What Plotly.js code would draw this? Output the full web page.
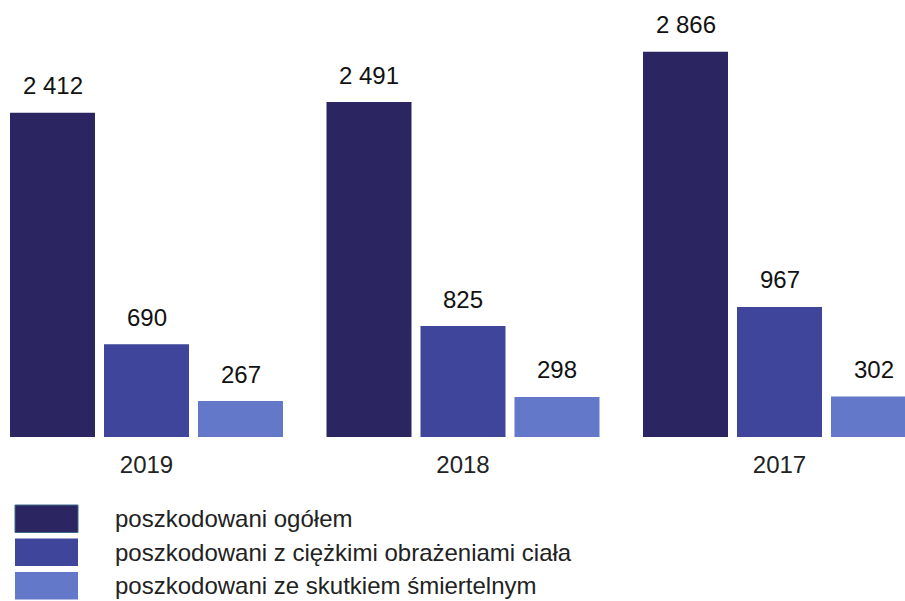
<!DOCTYPE html>
<html>
<head>
<meta charset="utf-8">
<script src="https://cdn.plot.ly/plotly-3.0.1.min.js"></script>
<style>html,body{margin:0;padding:0;background:#fff;}#chart{width:905px;height:601px;}</style>
</head>
<body>
<div id="chart"></div>
<script>
// Data
const years = ["2019", "2018", "2017"];
const seriesNames = [
  "poszkodowani ogółem",
  "poszkodowani z ciężkimi obrażeniami ciała",
  "poszkodowani ze skutkiem śmiertelnym"
];
const totalInjured = [2412, 2491, 2866];
const seriouslyInjured = [690, 825, 967];
const fatalities = [267, 298, 302];
const seriesValues = [totalInjured, seriouslyInjured, fatalities];
const colors = ["#2b2661", "#3e459b", "#6478c9"];

function fmt(v) {
  return String(v).replace(/\B(?=(\d{3})+(?!\d))/g, " ");
}

const FONT = "Liberation Sans, Arial, Helvetica, sans-serif";
const W = 905, H = 601, B = 164;
const plotH = H - B;
const bargap = 0.109, bargroupgap = 0.0957;

const traces = seriesValues.map((vals, i) => ({
  type: "bar",
  name: seriesNames[i],
  x: years,
  y: vals,
  marker: { color: colors[i] },
  hoverinfo: "skip",
  showlegend: false
}));

// Value labels above bars
const annotations = [];
const slot = (1 - bargap) / seriesValues.length;
seriesValues.forEach((vals, i) => {
  vals.forEach((v, j) => {
    annotations.push({
      xref: "x", yref: "y",
      x: j + (i - (seriesValues.length - 1) / 2) * slot,
      y: v,
      text: fmt(v),
      showarrow: false,
      xanchor: "center", yanchor: "middle",
      yshift: 27,
      font: { family: FONT, size: 24, color: "#111" }
    });
  });
});

// Custom legend
const shapes = [];
const legTop = 505, legStep = 33.5, swH = 27.5;
seriesNames.forEach((name, i) => {
  const top = legTop + i * legStep;
  shapes.push({
    type: "rect", xref: "paper", yref: "paper",
    x0: 15 / W, x1: 78 / W,
    y0: (plotH - (top + swH)) / plotH, y1: (plotH - top) / plotH,
    fillcolor: colors[i],
    line: { width: i === 0 ? 1 : 0, color: "#3f6a8c" }
  });
  annotations.push({
    xref: "paper", yref: "paper",
    x: 113 / W, y: (plotH - (top + swH / 2)) / plotH,
    text: name, showarrow: false,
    xanchor: "left", yanchor: "middle",
    font: { family: FONT, size: 24, color: "#222" }
  });
});

const layout = {
  width: W, height: H,
  margin: { l: 0, r: 0, t: 0, b: B, pad: 0 },
  paper_bgcolor: "#fff", plot_bgcolor: "#fff",
  barmode: "group",
  bargap: bargap,
  bargroupgap: bargroupgap,
  showlegend: false,
  xaxis: {
    type: "category",
    range: [-146.5 / 316.5, (W - 146.5) / 316.5],
    showgrid: false, zeroline: false, showline: false,
    ticks: "",
    ticklabelstandoff: 11,
    tickfont: { family: FONT, size: 24, color: "#222" },
    fixedrange: true
  },
  yaxis: {
    range: [0, 3250],
    visible: false,
    showgrid: false, zeroline: false,
    fixedrange: true
  },
  annotations: annotations,
  shapes: shapes,
  font: { family: FONT }
};

Plotly.newPlot("chart", traces, layout, { displayModeBar: false, staticPlot: true });
</script>
</body>
</html>
